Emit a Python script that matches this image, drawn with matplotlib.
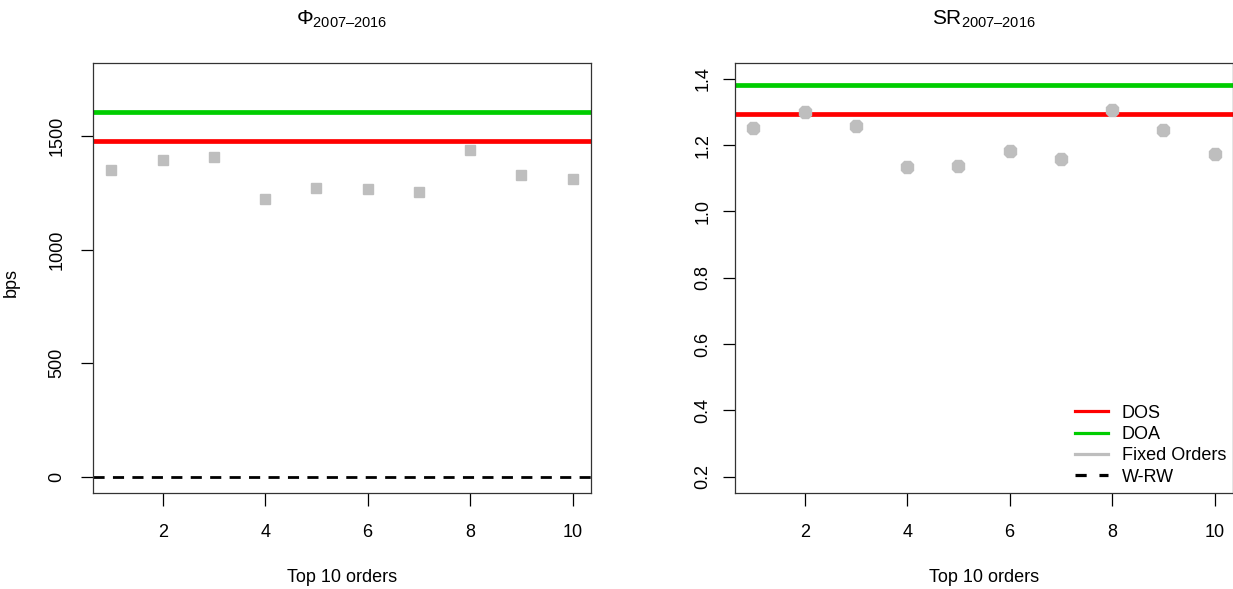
import numpy as np
import matplotlib
matplotlib.use("Agg")
import matplotlib.pyplot as plt
from matplotlib.lines import Line2D

plt.rcParams['font.family'] = ['Liberation Sans', 'DejaVu Sans']
plt.rcParams['mathtext.fontset'] = 'custom'
plt.rcParams['mathtext.rm'] = 'Liberation Sans'
plt.rcParams['mathtext.it'] = 'Liberation Sans'

# Data
orders = np.arange(1, 11)
phi_fixed = [1350, 1394, 1408, 1224, 1273, 1267, 1252, 1437, 1330, 1310]
phi_dos = 1479
phi_doa = 1607
phi_wrw = 0

sr_fixed = [1.252, 1.300, 1.257, 1.133, 1.138, 1.183, 1.159, 1.305, 1.247, 1.173]
sr_dos = 1.295
sr_doa = 1.383

legend_labels = ["DOS", "DOA", "Fixed Orders", "W-RW"]
col_dos = "#ff0000"
col_doa = "#00cd00"
col_fixed = "#bebebe"

W, H = 1233, 589
fig = plt.figure(figsize=(W / 100, H / 100), dpi=100)

def px_axes(x0, y0, x1, y1):
    return fig.add_axes([x0 / W, 1 - y1 / H, (x1 - x0) / W, (y1 - y0) / H])

ax1 = px_axes(93, 63.3, 591, 493.3)
ax2 = px_axes(735, 63.3, 1233, 493.3)

fs = 13

def style(ax, ypad):
    for s in ax.spines.values():
        s.set_linewidth(0.9)
        s.set_color("#333333")
    ax.set_xlim(0.64, 10.36)
    ax.set_xticks([2, 4, 6, 8, 10])
    ax.tick_params(axis='both', length=9, width=0.9, labelsize=fs)
    ax.tick_params(axis='x', pad=13)
    ax.tick_params(axis='y', pad=ypad, labelrotation=90)
    ax.set_xlabel("Top 10 orders", fontsize=fs, labelpad=20)

# Left panel
ax1.axhline(phi_doa, color=col_doa, lw=3.4, zorder=2)
ax1.axhline(phi_dos, color=col_dos, lw=3.4, zorder=2)
ax1.axhline(phi_wrw, color="black", lw=2.0, ls=(0, (4, 3)), zorder=2)
ax1.plot(orders, phi_fixed, ls='none', marker='s', ms=7.5, color=col_fixed,
         mec=col_fixed, mew=1.0, zorder=3)
ax1.set_ylim(-72, 1820)
ax1.set_yticks([0, 500, 1000, 1500])
style(ax1, 11)
for lab in ax1.get_yticklabels():
    lab.set_va('center')
ax1.set_ylabel("bps", fontsize=fs)
ax1.yaxis.set_label_coords((20 - 93) / 498, 0.49)
ax1.set_title("$\\Phi_{2007\u20132016}$", fontsize=15, pad=28)

# Right panel
ax2.axhline(sr_doa, color=col_doa, lw=3.4, zorder=2)
ax2.axhline(sr_dos, color=col_dos, lw=3.4, zorder=2)
ax2.plot(orders, sr_fixed, ls='none', marker='8', ms=9.5, color=col_fixed,
         mec=col_fixed, zorder=3)
ax2.set_ylim(0.150, 1.447)
ax2.set_yticks([0.2, 0.4, 0.6, 0.8, 1.0, 1.2, 1.4])
ax2.set_yticklabels(["0.2", "0.4", "0.6", "0.8", "1.0", "1.2", "1.4"])
style(ax2, 8)
for lab in ax2.get_yticklabels():
    lab.set_va('center')
ax2.set_title("$\\mathrm{SR}_{2007\u20132016}$", fontsize=15, pad=28)

handles = [
    Line2D([], [], color=col_dos, lw=2.3),
    Line2D([], [], color=col_doa, lw=2.3),
    Line2D([], [], color=col_fixed, lw=2.3),
    Line2D([], [], color="black", lw=2.3, ls=(0, (3.5, 4))),
]
ax2.legend(handles, legend_labels, loc='lower right', frameon=False,
           fontsize=fs, handlelength=1.85, handletextpad=0.75,
           labelspacing=0.24, borderaxespad=0.0, borderpad=0.3,
           bbox_to_anchor=(0.997, 0.005))

fig.savefig("out.png", dpi=100)
